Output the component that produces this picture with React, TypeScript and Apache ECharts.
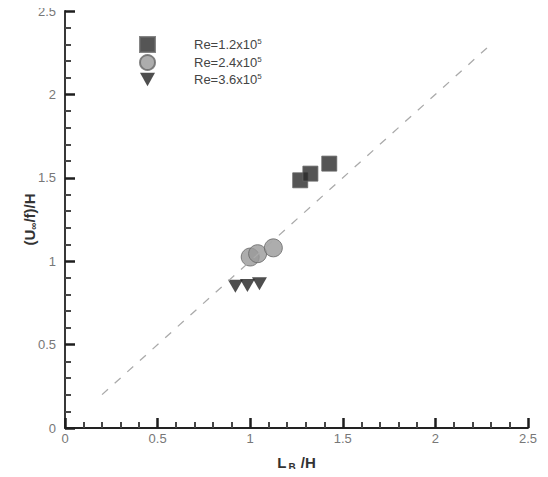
import React, { useEffect, useRef } from "react";
import * as echarts from "echarts";

const squares: number[][] = [
  [1.27, 1.485],
  [1.325, 1.525],
  [1.427, 1.585],
];
const circles: number[][] = [
  [1.0, 1.025],
  [1.04, 1.045],
  [1.125, 1.08],
];
const triangles: number[][] = [
  [0.92, 0.85],
  [0.985, 0.855],
  [1.05, 0.865],
];
const refLine: number[][] = [
  [0.2, 0.2],
  [2.28, 2.28],
];
const seriesNames = ["Re=1.2x10^5", "Re=2.4x10^5", "Re=3.6x10^5"];

const tri = "path://M0,0 L10,0 L5,9 Z";

export default function App() {
  const ref = useRef<HTMLDivElement>(null);
  useEffect(() => {
    if (!ref.current) return;
    const chart = echarts.init(ref.current, null, { renderer: "svg" });
    const axisCommon = {
      type: "value" as const,
      min: 0,
      max: 2.5,
      interval: 0.5,
      axisLine: { show: true, onZero: false, lineStyle: { color: "#222", width: 1.8 } },
      axisTick: { show: true, inside: true, length: 10, lineStyle: { color: "rgb(30,30,30)", width: 2.5 } },
      minorTick: { show: true, splitNumber: 5, length: 6, lineStyle: { color: "rgb(70,70,70)", width: 2 } },
      splitLine: { show: false },
      nameMoveOverlap: false,
      axisLabel: {
        color: "#777",
        fontSize: 13,
        fontFamily: "Liberation Sans, Arial",
        formatter: (v: number) => String(v),
      },
    };
    chart.setOption({
      animation: false,
      grid: { left: 65, right: 20, top: 11, bottom: 45, containLabel: false },
      legend: {
        orient: "vertical",
        left: 134,
        top: 31,
        itemWidth: 15,
        itemHeight: 15,
        itemGap: 1,
        data: seriesNames,
        formatter: (n: string) => {
          const [base, sup] = n.split("^");
          return `{b|${base}}{s|${sup}}`;
        },
        textStyle: {
          padding: [0, 0, 0, 34],
          lineHeight: 15,
          rich: {
            b: { fontSize: 13, color: "#444", fontFamily: "Liberation Sans, Arial", lineHeight: 15 },
            s: { fontSize: 8, color: "#444", fontFamily: "Liberation Sans, Arial", verticalAlign: "top", lineHeight: 15 },
          },
        },
      },
      xAxis: {
        ...axisCommon,
        name: "{b|L}{sub|B}{b| /H}",
        nameLocation: "middle",
        nameGap: 24,
        nameTextStyle: {
          rich: {
            b: { fontSize: 15, fontWeight: "bold", color: "#333", fontFamily: "Liberation Sans, Arial" },
            sub: { fontSize: 10, fontWeight: "bold", color: "#333", fontFamily: "Liberation Sans, Arial", padding: [10, 1, 0, 2] },
          },
        },
        axisLabel: { ...axisCommon.axisLabel, margin: 4 },
      },
      yAxis: {
        ...axisCommon,
        name: "{b|(U}{sub|∞}{b|/f)/H}",
        nameLocation: "middle",
        nameGap: 27,
        nameTextStyle: {
          rich: {
            b: { fontSize: 15, fontWeight: "bold", color: "#333", fontFamily: "Liberation Sans, Arial" },
            sub: { fontSize: 10, fontWeight: "bold", color: "#333", fontFamily: "Liberation Sans, Arial", padding: [8, 0, 0, 0] },
          },
        },
        axisLabel: { ...axisCommon.axisLabel, margin: 9 },
      },
      series: [
        {
          name: "ref",
          type: "line",
          data: refLine,
          symbol: "none",
          lineStyle: { color: "#aaa", width: 1.3, type: [8, 9] },
          silent: true,
        },
        {
          name: seriesNames[0],
          type: "scatter",
          data: squares,
          symbol: "rect",
          symbolSize: 15,
          itemStyle: { color: "#2b2b2b", borderColor: "#666", borderWidth: 1 },
        },
        {
          name: seriesNames[1],
          type: "scatter",
          data: circles,
          symbol: "circle",
          symbolSize: 18,
          itemStyle: { color: "#999", borderColor: "#666", borderWidth: 1 },
        },
        {
          name: seriesNames[2],
          type: "scatter",
          data: triangles,
          symbol: tri,
          symbolSize: [15, 13],
          itemStyle: { color: "#222" },
        },
      ],
    });
    return () => chart.dispose();
  }, []);
  return <div ref={ref} style={{ width: 548, height: 477, margin: -8 }} />;
}
